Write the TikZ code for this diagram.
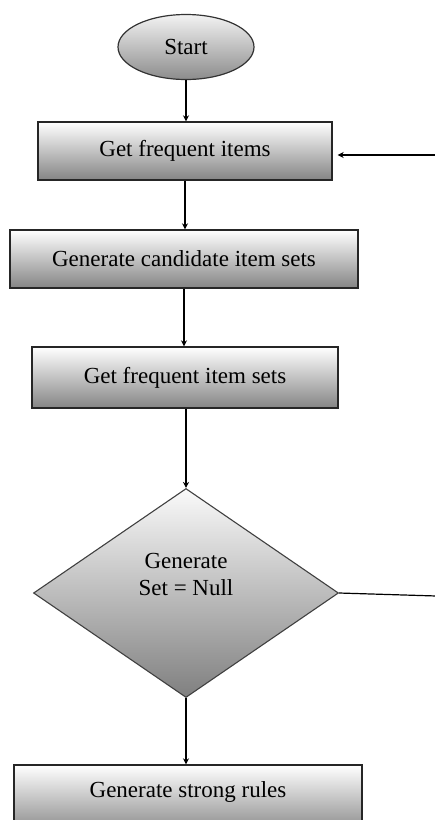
\documentclass[tikz,border=0pt]{standalone}
\usepackage{fontspec}
\setmainfont{Liberation Serif}
\usetikzlibrary{shapes.geometric,arrows.meta}
\begin{document}
\begin{tikzpicture}[x=1pt,y=1pt,
  boxst/.style={draw=black!85,line width=1.4pt,top color=white,bottom color=black!48,
    rectangle,inner sep=0pt,font=\fontsize{23}{26}\selectfont},
  arr/.style={line width=1.3pt,-{Stealth[length=6pt,width=6pt]}},
  ln/.style={line width=1.2pt}]
\useasboundingbox (0,0) rectangle (435,-820);
\node[ellipse,draw=black!80,line width=1.2pt,top color=black!5,bottom color=black!45,
  minimum width=136pt,minimum height=65pt,inner sep=0pt,font=\fontsize{23}{26}\selectfont]
  (start) at (186,-47) {Start};
\node[boxst,minimum width=294pt,minimum height=58pt] (b1) at (185,-151) {Get frequent items};
\node[boxst,minimum width=348pt,minimum height=58pt] (b2) at (184,-259) {Generate candidate item sets};
\node[boxst,minimum width=306pt,minimum height=61pt] (b3) at (185,-377.5) {Get frequent item sets};
\node[diamond,draw=black!75,line width=1.1pt,top color=black!2,bottom color=black!50,
  minimum width=305pt,minimum height=209pt,inner sep=0pt] (d) at (186,-593) {};
\node[align=center,font=\fontsize{23}{27}\selectfont] (dt) at (186,-574) {Generate\\Set = Null};
\node[boxst,minimum width=348pt,minimum height=70pt] (b4) at (188,-800) {};
\node[font=\fontsize{23}{26}\selectfont] (b4t) at (188,-792) {Generate strong rules};
\coordinate (fb1) at (436.5,-596);
\coordinate (fb2) at (436.5,-155);
\draw[arr] (start.south) -- (b1.north -| start.south);
\draw[arr] (b1.south) -- (b2.north -| b1.south);
\draw[arr] (b2.south) -- (b3.north -| b2.south);
\draw[arr] (b3.south -| d.north) -- (d.north);
\draw[arr] (d.south) -- (b4.north -| d.south);
\draw[ln] (d.east) -- (fb1) -- (fb2);
\draw[arr,shorten >=5pt] (fb2) -- (b1.east |- fb2);
\end{tikzpicture}
\end{document}
